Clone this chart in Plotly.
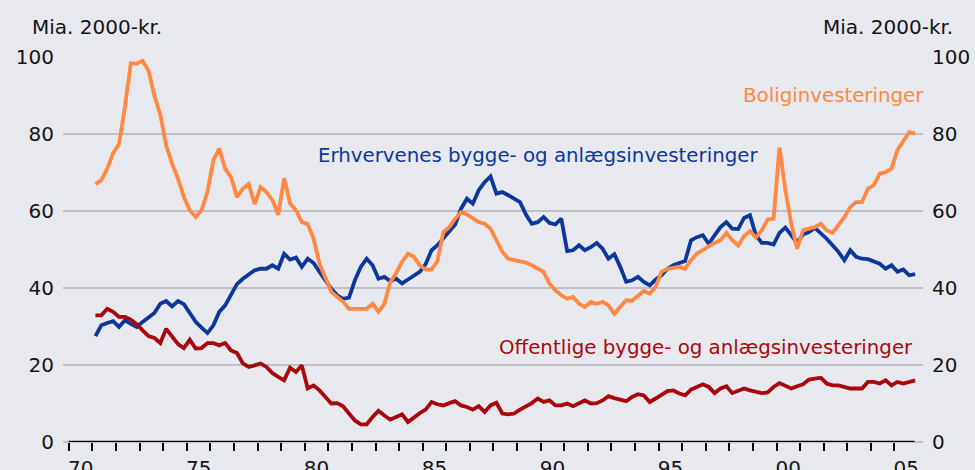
import plotly.graph_objects as go
import pandas as pd

# Quarterly data, 1971Q1 - 2005Q4 (Mia. 2000-kr.)
start_period = "1971Q1"
end_period = "2005Q4"

bolig = [
    67, 68, 71, 75,
    77.3, 87, 98.4, 98.3,
    99, 96.5, 90, 85,
    77, 72.3, 68.4, 63.6,
    60.2, 58.4, 60.2, 65,
    73.2, 76.2, 71, 68.8,
    63.6, 65.8, 67, 61.8,
    66.2, 64.9, 62.9, 59,
    68.5, 62, 60.2, 57.1,
    56.6, 52.8, 46.3, 42.9,
    39, 37.7, 36.4, 34.6,
    34.6, 34.6, 34.6, 35.9,
    33.8, 35.9, 41.5, 43.9,
    46.8, 48.9, 48.1, 45.9,
    44.8, 44.8, 47, 54.5,
    55.8, 58, 59.7, 59.1,
    58, 57.1, 56.7, 55.4,
    52.4, 49.4, 47.6, 47.2,
    47, 46.6, 45.9, 45,
    44.2, 41.1, 39.4, 38.1,
    37.2, 37.7, 35.9, 35.1,
    36.4, 35.9, 36.4, 35.5,
    33.3, 35.1, 36.8, 36.7,
    38.1, 39.2, 38.5, 40.3,
    44.2, 45, 45.2, 45.5,
    45, 47.2, 48.9, 50,
    50.8, 51.7, 52.4, 54.3,
    52.4, 51, 53.5, 54.8,
    53.1, 55, 57.8, 58,
    76.5, 65.4, 56.7, 50.2,
    55, 55.4, 55.8, 56.7,
    55, 54.3, 56.3, 58.4,
    61, 62.3, 62.3, 65.8,
    66.7, 69.7, 70.1, 71,
    75.8, 78.2, 80.5, 80.1,
]

erhverv = [
    27.5, 30.3, 30.9, 31.4,
    29.9, 31.6, 30.7, 29.9,
    31.2, 32.5, 33.5, 35.9,
    36.6, 35.2, 36.6, 35.8,
    33.3, 31.2, 29.7, 28.3,
    30.3, 33.8, 35.5, 38.1,
    41, 42.4, 43.6, 44.6,
    45, 45, 45.9, 45,
    48.9, 47.4, 47.9, 45.5,
    47.6, 46.5, 44.2, 42,
    39.8, 38.1, 37.2, 37.5,
    42, 45.5, 47.6, 45.9,
    42.4, 42.9, 41.8, 42.4,
    41.2, 42.2, 43.2, 44.2,
    46.2, 49.8, 51.1, 52.8,
    54.5, 56.5, 60.6, 63.2,
    61.9, 65.4, 67.5, 69,
    64.5, 64.9, 64.1, 63.2,
    62.3, 59.1, 56.7, 57.1,
    58.4, 56.9, 56.5, 58,
    49.6, 49.8, 51.1, 49.8,
    50.6, 51.7, 50.2, 47.6,
    48.8, 45.5, 41.6, 42,
    42.9, 41.6, 40.7, 42.2,
    43.3, 45, 45.9, 46.5,
    47, 52.4, 53.2, 53.7,
    51.5, 53.7, 55.8, 57.1,
    55.4, 55.3, 58.2, 58.9,
    53.7, 51.7, 51.7, 51.3,
    54.3, 55.7, 53.7, 51.7,
    53.9, 54.5, 55.6, 54.3,
    52.8, 51.1, 49.4, 47.2,
    49.8, 48.1, 47.6, 47.5,
    46.8, 46.3, 45, 45.9,
    44.2, 44.8, 43.3, 43.6,
]

offentlig = [
    32.9, 32.9, 34.6, 33.8,
    32.5, 32.5, 31.8, 30.6,
    29, 27.5, 27, 25.7,
    29.4, 27.5, 25.4, 24.4,
    26.6, 24.3, 24.4, 25.7,
    25.7, 25.1, 25.7, 23.8,
    23.1, 20.4, 19.5, 19.9,
    20.4, 19.5, 17.9, 16.9,
    16, 19.3, 18.2, 19.9,
    13.9, 14.7, 13.4, 11.7,
    10, 10.1, 9.3, 7.4,
    5.6, 4.6, 4.6, 6.5,
    8.1, 6.9, 5.8, 6.5,
    7.2, 5.2, 6.5, 7.5,
    8.4, 10.4, 9.8, 9.5,
    10.1, 10.6, 9.5, 9.1,
    8.4, 9.3, 7.8, 9.5,
    10.2, 7.4, 7.2, 7.4,
    8.4, 9.3, 10.1, 11.3,
    10.4, 10.8, 9.5, 9.5,
    10, 9.3, 10.1, 10.8,
    10, 10.1, 10.8, 11.9,
    11.4, 11, 10.6, 11.7,
    12.4, 12.1, 10.4, 11.3,
    12.4, 13.2, 13.4, 12.6,
    12.1, 13.6, 14.3, 15,
    14.3, 12.7, 13.9, 14.5,
    12.7, 13.2, 13.9, 13.4,
    13, 12.7, 12.9, 14.3,
    15.3, 14.7, 13.9, 14.5,
    15, 16.2, 16.5, 16.7,
    15.2, 14.7, 14.7, 14.3,
    13.9, 13.9, 13.9, 15.6,
    15.6, 15.2, 16, 14.7,
    15.6, 15.2, 15.6, 16,
]

tick_years = [1970, 1975, 1980, 1985, 1990, 1995, 2000, 2005]
tick_labels = ["70", "75", "80", "85", "90", "95", "00", "05"]
y_ticks = [0, 20, 40, 60, 80, 100]

periods = pd.period_range(start_period, end_period, freq="Q")
x = [p.year + (p.quarter - 0.5) / 4 for p in periods]

FONT = "DejaVu Sans"
C_ORANGE = "rgb(255,136,66)"
C_BLUE = "rgb(12,56,156)"
C_RED = "rgb(168,8,12)"
BG = "rgb(232,232,239)"
GRID = "rgb(192,192,196)"
TXT = "rgb(20,20,20)"

fig = go.Figure()
fig.add_trace(go.Scatter(x=x, y=erhverv, mode="lines", line=dict(color=C_BLUE, width=3.8), hoverinfo="skip"))
fig.add_trace(go.Scatter(x=x, y=offentlig, mode="lines", line=dict(color=C_RED, width=3.8), hoverinfo="skip"))
fig.add_trace(go.Scatter(x=x, y=bolig, mode="lines", line=dict(color=C_ORANGE, width=3.8), hoverinfo="skip"))
# invisible trace on the right axis so it renders
fig.add_trace(go.Scatter(x=[x[0]], y=[None], yaxis="y2", showlegend=False, hoverinfo="skip"))

fig.update_layout(
    width=975, height=470,
    margin=dict(l=63, r=52, t=57, b=28, autoexpand=False),
    paper_bgcolor=BG, plot_bgcolor=BG,
    showlegend=False,
    font=dict(family=FONT, size=20, color=TXT),
    xaxis=dict(
        range=[1969.75, 2006.21],
        automargin=False,
        tickmode="array",
        tickvals=[y + 0.5 for y in tick_years],
        ticktext=tick_labels,
        ticks="outside", ticklen=8, tickcolor="rgba(0,0,0,0)",
        showgrid=False, zeroline=False, showline=False,
        tickfont=dict(family=FONT, size=20, color=TXT),
        minor=dict(tickmode="array", tickvals=list(range(1970, 2006)),
                   ticks="outside", ticklen=8, tickwidth=2, tickcolor="black", showgrid=False),
    ),
    yaxis=dict(
        range=[0, 100], tickmode="array", tickvals=y_ticks,
        automargin=False,
        showgrid=True, gridcolor=GRID, gridwidth=2,
        zeroline=True, zerolinecolor=GRID, zerolinewidth=2,
        showline=False, ticks="",
        ticklabelstandoff=8,
        tickfont=dict(family=FONT, size=20, color=TXT),
    ),
    yaxis2=dict(
        range=[0, 100], tickmode="array", tickvals=y_ticks,
        automargin=False,
        overlaying="y", side="right",
        showgrid=False, zeroline=False, showline=False, ticks="",
        ticklabelstandoff=8,
        tickfont=dict(family=FONT, size=20, color=TXT),
    ),
)

# black x axis line from 1970 to end of 2005 (gridline at zero remains visible at the ends)
fig.add_shape(type="line", xref="x", yref="y", x0=1970, x1=2005.85, y0=0, y1=0,
              line=dict(color="black", width=2.5), layer="above")

fig.add_annotation(xref="paper", yref="paper", x=-0.0384, y=1.078, xanchor="left", yanchor="middle",
                   text="Mia. 2000-kr.", showarrow=False, font=dict(family=FONT, size=20, color=TXT))
fig.add_annotation(xref="paper", yref="paper", x=1.037, y=1.078, xanchor="right", yanchor="middle",
                   text="Mia. 2000-kr.", showarrow=False, font=dict(family=FONT, size=20, color=TXT))
fig.add_annotation(xref="x", yref="y", x=1989.9, y=74.5, xanchor="center", yanchor="middle",
                   text="Erhvervenes bygge- og anlægsinvesteringer", showarrow=False,
                   font=dict(family=FONT, size=19.8, color=C_BLUE))
fig.add_annotation(xref="paper", yref="y", x=1.004, y=90, xanchor="right", yanchor="middle",
                   text="Boliginvesteringer", showarrow=False,
                   font=dict(family=FONT, size=19.8, color=C_ORANGE))
fig.add_annotation(xref="x", yref="y", x=1997.0, y=24.6, xanchor="center", yanchor="middle",
                   text="Offentlige bygge- og anlægsinvesteringer", showarrow=False,
                   font=dict(family=FONT, size=19.8, color=C_RED))

fig.write_html(
    "out.html",
    config={"displayModeBar": False},
    post_script=(
        "document.body.style.margin='0';"
        "document.body.style.padding='0';"
        "document.body.style.overflow='hidden';"
        "document.body.style.background='" + BG + "';"
    ),
)
